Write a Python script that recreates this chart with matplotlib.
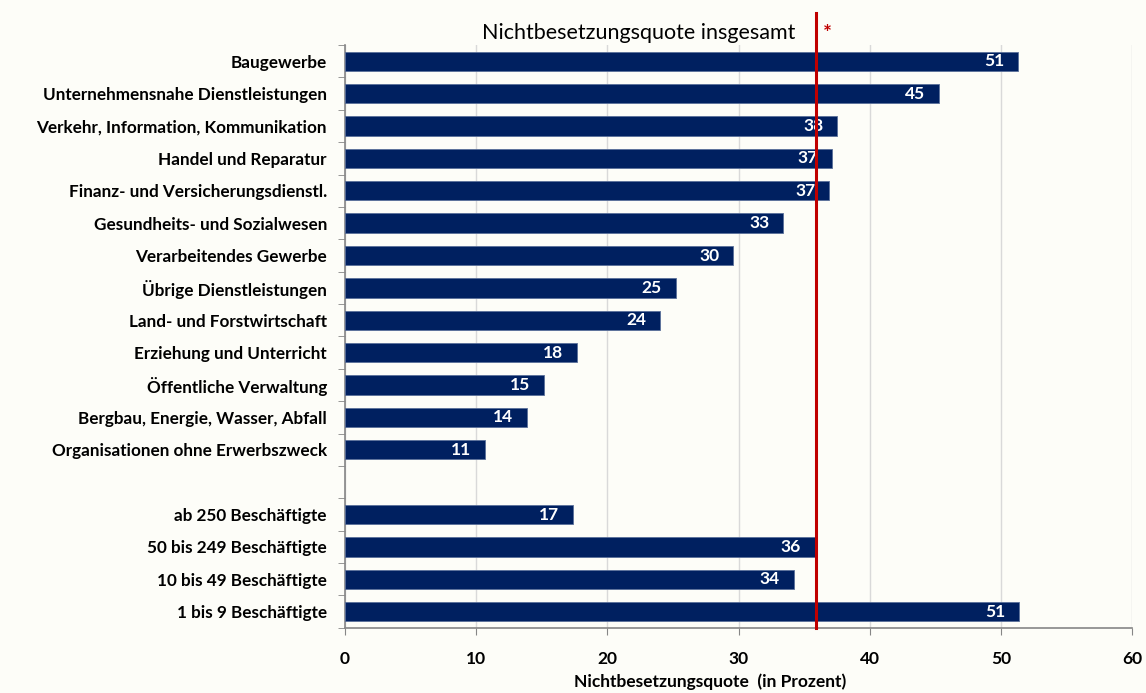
import matplotlib.pyplot as plt
import numpy as np

# ── Data ─────────────────────────────────────────────────
branches = [
    'Baugewerbe',
    'Unternehmensnahe Dienstleistungen',
    'Verkehr, Information, Kommunikation',
    'Handel und Reparatur',
    'Finanz- und Versicherungsdienstl.',
    'Gesundheits- und Sozialwesen',
    'Verarbeitendes Gewerbe',
    'Übrige Dienstleistungen',
    'Land- und Forstwirtschaft',
    'Erziehung und Unterricht',
    'Öffentliche Verwaltung',
    'Bergbau, Energie, Wasser, Abfall',
    'Organisationen ohne Erwerbszweck',
]
branch_values = [51.3, 45.3, 37.5, 37.1, 36.9, 33.4, 29.6, 25.2, 24.0, 17.7, 15.2, 13.9, 10.7]

sizes = [
    'ab 250 Beschäftigte',
    '50 bis 249 Beschäftigte',
    '10 bis 49 Beschäftigte',
    '1 bis 9 Beschäftigte',
]
size_values = [17.4, 35.8, 34.2, 51.4]

overall = 35.9
x_ticks = [0, 10, 20, 30, 40, 50, 60]

# ── Style ────────────────────────────────────────────────
bg_color = '#fdfdf8'
bar_color = '#002060'
line_color = '#c00000'
grid_color = '#d9d9d9'
spine_color = '#868686'
plt.rcParams['font.family'] = ['Lato', 'DejaVu Sans']

# positions: branches on top, one empty slot, then sizes
labels = branches + [''] + sizes
values = branch_values + [None] + size_values
ypos = np.arange(len(labels))

fig, ax = plt.subplots(figsize=(11.46, 6.93), dpi=100, facecolor=bg_color)
ax.set_facecolor(bg_color)

for y, v in zip(ypos, values):
    if v is None:
        continue
    ax.barh(y, v, height=0.6, color=bar_color, edgecolor='#5a6f9a',
            linewidth=0.6, zorder=3)
    ax.annotate(f'{round(v):d}', xy=(v, y), xytext=(-10, 0),
                textcoords='offset points', ha='right', va='center',
                color='white', fontsize=12.5, fontweight='bold', zorder=4)

ax.set_ylim(len(labels) - 0.5, -0.5)
ax.set_xlim(0, 60)
ax.set_xticks(x_ticks)
ax.set_yticks(ypos)
ax.set_yticklabels(labels)
ax.set_yticks(np.arange(-0.5, len(labels), 1), minor=True)
ax.tick_params(axis='y', which='major', length=0, pad=13, labelsize=12.3,
               labelcolor='black')
ax.tick_params(axis='y', which='minor', length=5, color=spine_color)
ax.tick_params(axis='x', length=5, color=spine_color, labelsize=12.5, pad=12)
for lab in ax.get_yticklabels() + ax.get_xticklabels():
    lab.set_fontweight('bold')

ax.xaxis.grid(True, color=grid_color, linewidth=1, zorder=0)
ax.set_axisbelow(True)

for s in ['top', 'right']:
    ax.spines[s].set_visible(False)
for s in ['left', 'bottom']:
    ax.spines[s].set_color(spine_color)
    ax.spines[s].set_linewidth(1.2)

ax.set_xlabel('Nichtbesetzungsquote  (in Prozent)', fontsize=12.5,
              fontweight='bold')
ax.xaxis.set_label_coords(0.464, -0.093)
ax.xaxis.label.set_va('center')

# overall reference line, reaching above the plot area
ax.axvline(overall, ymin=0, ymax=1.055, color=line_color, linewidth=2.2,
           zorder=5, clip_on=False)
ax.text(overall - 1.6, -0.5 - 0.38, 'Nichtbesetzungsquote insgesamt',
        ha='right', va='center', fontsize=15.5, color='black')
ax.text(overall + 0.5, -0.5 - 0.35, '*', ha='left', va='center',
        fontsize=15, fontweight='bold', color=line_color)

fig.subplots_adjust(left=0.301, right=0.988, top=0.935, bottom=0.094)
fig.savefig('out.png', dpi=100, facecolor=bg_color)
